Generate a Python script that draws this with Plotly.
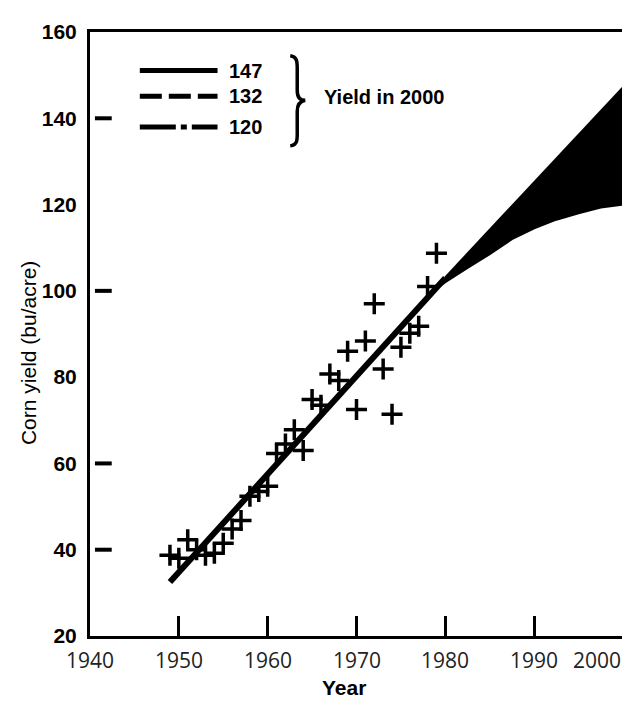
import plotly.graph_objects as go

# ---------------- data ----------------
obs_years = [1949, 1950, 1951, 1952, 1953, 1954, 1955, 1956, 1957, 1958,
             1959, 1960, 1961, 1962, 1963, 1964, 1965, 1966, 1967, 1968,
             1969, 1970, 1971, 1972, 1973, 1974, 1975, 1976, 1977, 1978, 1979]
obs_yield = [38.7, 38.0, 42.3, 40.0, 38.7, 39.2, 41.5, 44.8, 46.8, 52.4,
             53.5, 54.7, 62.3, 64.5, 67.8, 63.0, 74.8, 73.5, 80.7, 79.2,
             86.0, 72.5, 88.4, 97.0, 81.9, 71.4, 86.9, 90.2, 91.8, 101.0, 108.7]

trend_years = [1949, 1980]
trend_yield = [32.5, 103]

proj_high_years = [1980, 1990, 2000]
proj_high = [103, 125, 147]
proj_mid_years = [1980, 1990, 2000]
proj_mid = [103, 118, 132]
proj_low_years = [1979, 1980, 1982.5, 1985, 1987.5, 1990, 1992.5, 1995, 1997.5, 2000]
proj_low = [100.5, 102, 105.3, 108.5, 112, 114.5, 116.5, 118, 119.3, 120]

yield_2000 = [147, 132, 120]
legend_caption = "Yield in 2000"

x_tick_years = [1940, 1950, 1960, 1970, 1980, 1990, 2000]
y_ticks = [20, 40, 60, 80, 100, 120, 140, 160]
left_marks = [140, 100, 60, 40]

# ---------------- layout geometry ----------------
W, H = 630, 701
L, R, T, B = 82, 13, 18, 73
PW, PH = W - L - R, H - T - B


def px(xp):
    return (xp - L) / PW


def py(yp):
    return (H - B - yp) / PH


SANS = "Liberation Sans, Arial, sans-serif"

fig = go.Figure()

# projection fan
fig.add_trace(go.Scatter(x=proj_low_years, y=proj_low, mode="lines",
                         line=dict(color="black", width=2), hoverinfo="skip"))
fig.add_trace(go.Scatter(x=proj_high_years, y=proj_high, mode="lines",
                         line=dict(color="black", width=3),
                         fill="tonexty", fillcolor="black", hoverinfo="skip"))
fig.add_trace(go.Scatter(x=proj_mid_years, y=proj_mid, mode="lines",
                         line=dict(color="black", width=2, dash="dash"),
                         hoverinfo="skip"))

# trend line
fig.add_trace(go.Scatter(x=trend_years, y=trend_yield, mode="lines",
                         line=dict(color="black", width=6)))

# observations
fig.add_trace(go.Scatter(x=obs_years, y=obs_yield, mode="markers",
                         marker=dict(symbol="cross-thin", size=15, color="black",
                                     line=dict(color="black", width=3.5))))

# left-side short marks
fig.add_trace(go.Scatter(x=[1941.5] * len(left_marks), y=left_marks, mode="markers",
                         marker=dict(symbol="line-ew", size=12, color="black",
                                     line=dict(color="black", width=4)),
                         hoverinfo="skip"))

shapes = []
# legend key lines
key_y = [57, 83, 114]
key_dash = ["solid", "22px,7px", "36px,5px,6px,5px"]
for yy, dsh in zip(key_y, key_dash):
    shapes.append(dict(type="line", xref="paper", yref="paper",
                       x0=px(132), x1=px(210), y0=py(yy), y1=py(yy),
                       line=dict(color="black", width=5, dash=dsh)))

# brace
pts = [("M", [(283, 42)]),
       ("C", [(291, 43), (290, 50), (290, 60)]),
       ("L", [(290, 77)]),
       ("C", [(290, 84), (293, 87), (298, 87)]),
       ("C", [(293, 88), (290, 91), (290, 98)]),
       ("L", [(290, 116)]),
       ("C", [(290, 126), (291, 132), (283, 133)])]
path = ""
for cmd, plist in pts:
    path += cmd + " " + " ".join(f"{px(a):.5f},{py(b):.5f}" for a, b in plist) + " "
shapes.append(dict(type="path", xref="paper", yref="paper", path=path.strip(),
                   line=dict(color="black", width=3.5)))

annotations = []
for yy, val in zip(key_y, yield_2000):
    annotations.append(dict(text=str(val), xref="paper", yref="paper",
                            x=px(220), y=py(yy), xanchor="left", yanchor="middle",
                            showarrow=False,
                            font=dict(family=SANS, size=20, color="black", weight="bold")))
annotations.append(dict(text=legend_caption, xref="paper", yref="paper",
                        x=px(315), y=py(84), xanchor="left", yanchor="middle",
                        showarrow=False,
                        font=dict(family=SANS, size=20, color="black", weight="bold")))

# x tick labels
for yr in x_tick_years:
    annotations.append(dict(text=str(yr), x=yr, xref="x", yref="paper", y=0,
                            yshift=-24, xanchor="right" if yr == x_tick_years[-1] else "center",
                            yanchor="middle", showarrow=False,
                            font=dict(family="Open Sans, Liberation Sans, sans-serif",
                                      size=21, color="#222")))

# axis titles
annotations.append(dict(text="Year", xref="paper", yref="paper", x=px(337), y=py(680),
                        xanchor="center", yanchor="middle", showarrow=False,
                        font=dict(family=SANS, size=21, color="black", weight="bold")))
annotations.append(dict(text="Corn yield (bu/acre)", xref="paper", yref="paper",
                        x=px(21), y=py(342), xanchor="center", yanchor="middle",
                        textangle=-90, showarrow=False,
                        font=dict(family=SANS, size=21, color="black")))

fig.update_layout(
    width=W, height=H,
    margin=dict(l=L, r=R, t=T, b=B),
    plot_bgcolor="white", paper_bgcolor="white",
    showlegend=False,
    shapes=shapes, annotations=annotations,
    xaxis=dict(range=[1940, 2000], showline=True, linewidth=3, linecolor="black",
               mirror=True, ticks="inside", ticklen=20, tickwidth=3, tickcolor="black",
               tickvals=x_tick_years[1:-1], showticklabels=False,
               showgrid=False, zeroline=False),
    yaxis=dict(range=[20, 160], showline=True, linewidth=3, linecolor="black",
               mirror=True, ticks="", tickvals=y_ticks, ticklabelstandoff=6,
               tickfont=dict(family=SANS, size=21, color="black", weight="bold"),
               showgrid=False, zeroline=False),
)

fig.write_html("out.html")
